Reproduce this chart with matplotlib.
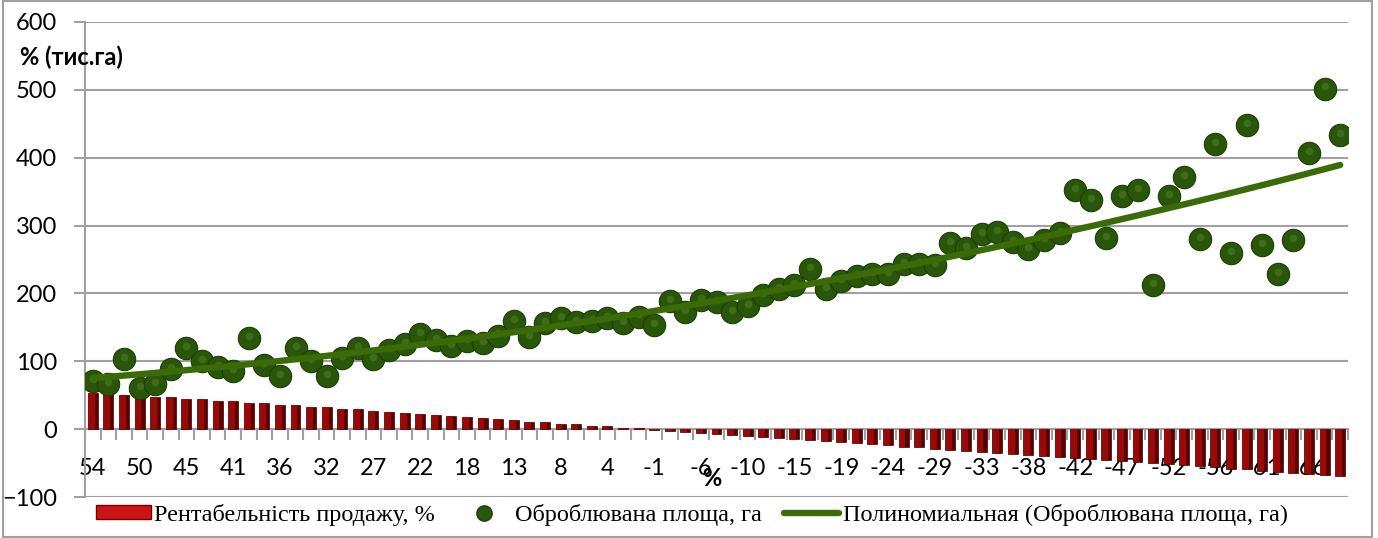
import matplotlib
matplotlib.use("Agg")
import matplotlib.pyplot as plt
import numpy as np
from matplotlib.patches import Patch, Rectangle
from matplotlib.lines import Line2D

# profitability of sales, % (also used as category labels)
RENT = [54, 53, 51, 50, 48, 47, 45, 44, 42, 41,
        39, 38, 36, 35, 33, 32, 30, 29, 27, 25,
        24, 22, 21, 19, 18, 16, 15, 13, 11, 10,
        8, 7, 5, 4, 2, 1, -1, -3, -4, -6,
        -7, -9, -10, -12, -13, -15, -16, -18, -19, -21,
        -22, -24, -26, -27, -29, -30, -32, -33, -35, -36,
        -38, -39, -41, -42, -44, -45, -47, -49, -50, -52,
        -53, -55, -56, -58, -59, -61, -63, -64, -66, -67,
        -69]

# cultivated area, thousand ha
AREA = [71, 66, 104, 61, 66, 88, 119, 100, 91, 86,
        134, 94, 78, 120, 100, 78, 105, 119, 104, 117,
        125, 140, 131, 122, 130, 127, 138, 159, 136, 156,
        164, 158, 159, 164, 157, 166, 154, 189, 172, 191,
        188, 172, 182, 197, 207, 213, 236, 206, 218, 226,
        228, 228, 244, 244, 242, 275, 267, 288, 291, 276,
        266, 279, 289, 353, 338, 282, 343, 352, 212, 344,
        372, 280, 420, 260, 448, 271, 229, 279, 407, 502,
        434]

LABEL_BAR = "Рентабельність продажу, %"
LABEL_DOT = "Оброблювана площа, га"
LABEL_TREND = "Полиномиальная (Оброблювана площа, га)"

W, H = 1378, 538
GRID = "#a0a0a0"

plt.rcParams["font.family"] = ["Lato", "DejaVu Sans"]

fig = plt.figure(figsize=(W / 100, H / 100), dpi=100)
ax = fig.add_axes([85 / W, 1 - 497 / H, (1348 - 85) / W, (497 - 22) / H])

x = np.arange(len(RENT))
rent = np.array(RENT, dtype=float)
area = np.array(AREA, dtype=float)

# bars with a crude bevel look
ax.bar(x, rent, width=0.64, color="#5a0000", edgecolor="#3f0000", linewidth=0.5, zorder=2)
ax.bar(x - 0.08, rent, width=0.4, color="#9a0808", linewidth=0, zorder=2.1)

# scatter "spheres"
ax.scatter(x, area, s=260, color="#2a560a", edgecolor="#1c3d05", linewidth=0.8, zorder=4)
ax.scatter(x, area + 3, s=30, color="#4a7d24", linewidth=0, alpha=0.6, zorder=4.1)

# polynomial trend (order 2)
coef = np.polyfit(x, area, 2)
ax.plot(x, np.polyval(coef, x), color="#3b6b06", lw=4.6, solid_capstyle="round", zorder=5)

ax.set_xlim(-0.5, len(RENT) - 0.5)
ax.set_ylim(-100, 600)
ax.set_yticks(np.arange(-100, 601, 100))
ax.grid(axis="y", color=GRID, lw=1.5, zorder=0)
ax.set_axisbelow(True)

for s in ("top", "right"):
    ax.spines[s].set_visible(False)
ax.spines["left"].set_color(GRID)
ax.spines["left"].set_linewidth(1.5)
ax.spines["bottom"].set_position(("data", 0))
ax.spines["bottom"].set_color(GRID)
ax.spines["bottom"].set_linewidth(1.5)
ax.spines["bottom"].set_zorder(1)

ax.set_xticks(x[::3])
ax.set_xticklabels([str(v) for v in RENT[::3]])
ax.set_xticks(np.arange(-0.5, len(RENT)), minor=True)
ax.tick_params(axis="x", which="major", length=0, pad=21, labelsize=17)
ax.tick_params(axis="x", which="minor", length=8, width=1.5, color=GRID)
ax.tick_params(axis="y", length=8, width=1.5, color=GRID, pad=12, labelsize=17)

ax.text(0.496, 0.04, "%", transform=ax.transAxes, ha="center", va="center",
        fontsize=17, fontweight="bold", zorder=6)
fig.text(20 / W, 1 - 57 / H, "% (тис.га)", ha="left", va="center",
         fontsize=17, fontweight="bold", family=["Lato", "Noto Sans", "DejaVu Sans"])

handles = [
    Patch(facecolor="#cc1414", edgecolor="#7a0000", linewidth=1),
    Line2D([], [], ls="none", marker="o", markersize=11, color="#2a560a", markeredgecolor="#1c3d05"),
    Line2D([], [], color="#3b6b06", lw=4.6, solid_capstyle="round"),
]
fig.legend(handles, [LABEL_BAR, LABEL_DOT, LABEL_TREND], loc="center",
           bbox_to_anchor=(0.502, 1 - 515 / H), ncol=3, frameon=False,
           prop={"family": "Liberation Serif", "size": 17.5},
           handlelength=2.25, handleheight=0.5, handletextpad=0.15, columnspacing=0.9)

fig.patches.append(Rectangle((3 / W, 0.002), (1372 - 3) / W, 0.996, transform=fig.transFigure,
                             fill=False, edgecolor=GRID, lw=1.5))

fig.savefig("out.png", dpi=100)
